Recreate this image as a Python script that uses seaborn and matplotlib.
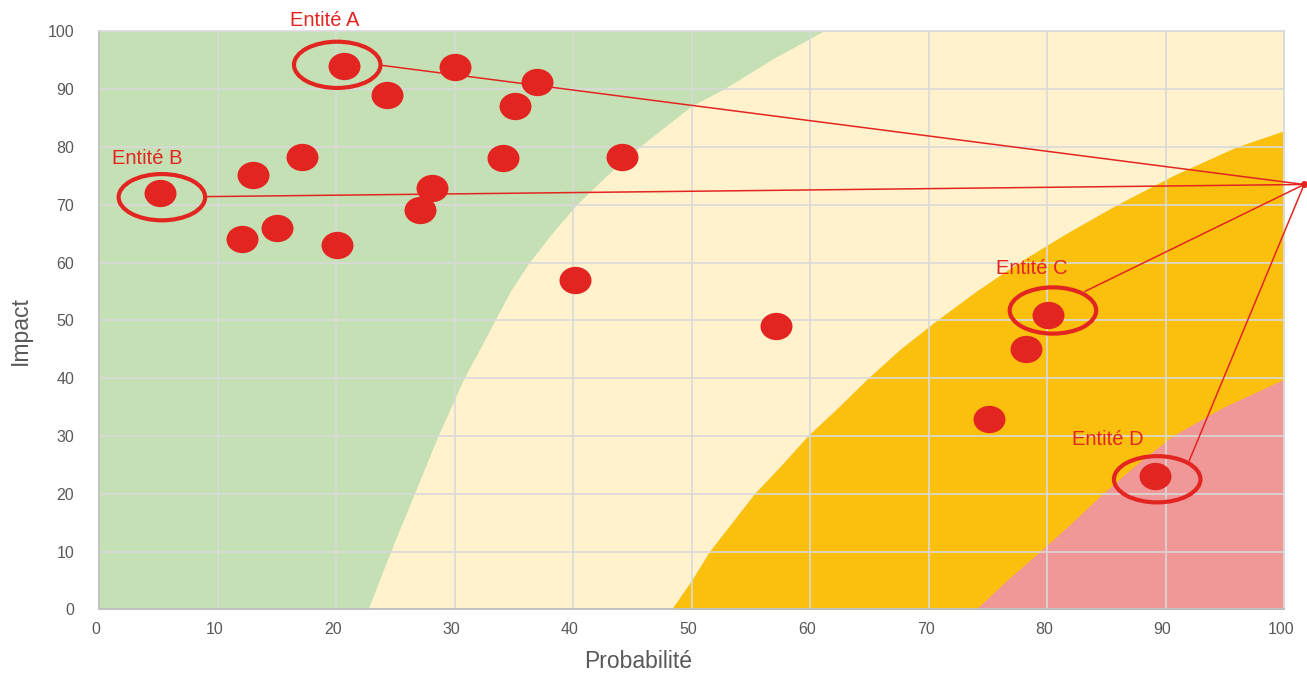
import matplotlib
matplotlib.use("Agg")
import matplotlib.pyplot as plt
import seaborn as sns
import pandas as pd
from matplotlib.path import Path
from matplotlib.patches import Ellipse
from matplotlib.transforms import Affine2D, ScaledTranslation

sns.set_theme(style="whitegrid")
plt.rcParams['font.family'] = ['Liberation Sans', 'DejaVu Sans']

# Risk points (probabilite, impact)
probabilite = [20.7, 24.3, 30.0, 37.0, 35.1, 17.1, 13.0, 5.1, 34.1, 44.1, 28.1,
               27.1, 12.1, 15.0, 20.1, 40.2, 57.1, 80.1, 78.2, 75.1, 89.1]
impact = [94.0, 88.9, 93.9, 91.3, 87.0, 78.3, 75.1, 72.1, 78.1, 78.3, 72.9,
          69.1, 64.1, 66.0, 63.0, 57.0, 49.1, 51.0, 45.0, 32.9, 23.0]

# Zone boundaries (x position of the boundary for given impact levels)
green_y = [0, 10, 20, 30, 40, 45.7, 50, 55, 60, 65, 70, 75, 80, 87.1, 90, 95.3, 100]
green_x = [22.7, 24.6, 26.6, 28.6, 30.8, 32.3, 33.4, 34.7, 36.3, 38.2, 40.3,
           42.8, 45.6, 50.0, 52.7, 56.9, 61.1]
orange_y = [0, 5, 10, 15, 20, 25, 30, 35, 40, 45, 50, 55, 60, 65, 70, 75, 80, 82.8]
orange_x = [48.3, 50.0, 51.5, 53.4, 55.3, 57.6, 59.8, 62.4, 64.9, 67.6, 70.7,
            74.0, 77.6, 81.6, 85.9, 90.6, 96.0, 100]
pink_y = [0, 5, 10, 15, 20, 25, 30, 35, 39.8]
pink_x = [74.0, 76.6, 79.4, 82.1, 84.7, 87.5, 90.6, 94.9, 100]

# Highlighted entities
entites = ["Entité A", "Entité B", "Entité C", "Entité D"]
ell_x = [20.1, 5.3, 80.5, 89.3]
ell_y = [94.2, 71.3, 51.7, 22.5]
label_x = [19.0, 4.1, 78.7, 85.1]
label_y = [101.8, 78.0, 58.9, 29.3]
link_x = [23.9, 9.1, 83.2, 92.0]
link_y = [94.1, 71.4, 55.0, 25.7]
hub = (101.7, 73.5)

RED = "#E32522"
GREEN = "#C5E0B4"
YELLOW = "#FFF2CC"
ORANGE = "#FBC00D"
PINK = "#F09798"
GRAY = "#595959"

fig = plt.figure(figsize=(13.07, 6.73), dpi=100)
ax = fig.add_axes([0.0758, 0.0946, 0.9066, 0.8589])
ax.set_facecolor(YELLOW)

ax.fill_betweenx(green_y, 0, green_x, color=GREEN, lw=0, zorder=0.2)
ax.fill_betweenx(orange_y, orange_x, 100, color=ORANGE, lw=0, zorder=0.3)
ax.fill_betweenx(pink_y, pink_x, 100, color=PINK, lw=0, zorder=0.4)

# slightly wide elliptical marker like the original
dot = Path.unit_circle().transformed(Affine2D().scale(1.17, 1.0))
df = pd.DataFrame({"Probabilité": probabilite, "Impact": impact})
sns.scatterplot(data=df, x="Probabilité", y="Impact", marker=dot, s=530,
                color=RED, linewidth=0, zorder=3, ax=ax)

for name, ex, ey, lx, ly, kx, ky in zip(entites, ell_x, ell_y, label_x, label_y, link_x, link_y):
    ax.add_patch(Ellipse((ex, ey), width=7.3, height=8.0, fill=False,
                         ec=RED, lw=3, zorder=4, clip_on=False))
    ax.plot([kx, hub[0]], [ky, hub[1]], color=RED, lw=1.1, zorder=4, clip_on=False)
    ax.text(lx, ly, name, color=RED, fontsize=14.5, ha="center", va="center",
            zorder=5, clip_on=False)
ax.plot([hub[0]], [hub[1]], "o", color=RED, ms=4, zorder=5, clip_on=False)

ax.set_xlim(0, 100)
ax.set_ylim(0, 100)
ax.set_xticks(range(0, 101, 10))
ax.set_yticks(range(0, 101, 10))
ax.set_axisbelow("line")
ax.grid(True, color="#D9D9D9", lw=1.2)
ax.tick_params(axis="both", length=0, labelsize=11.5, labelcolor=GRAY)
ax.tick_params(axis="x", pad=9)
ax.tick_params(axis="y", pad=18)
for lab in ax.get_xticklabels():
    lab.set_transform(lab.get_transform() + ScaledTranslation(-3 / 100, 0, fig.dpi_scale_trans))

for side in ["left", "bottom"]:
    ax.spines[side].set_color("#BFBFBF")
    ax.spines[side].set_linewidth(1.3)
for side in ["top", "right"]:
    ax.spines[side].set_color("#D9D9D9")
    ax.spines[side].set_linewidth(1.2)

ax.set_xlabel("Probabilité", fontsize=16.5, color=GRAY)
ax.set_ylabel("Impact", fontsize=16.5, color=GRAY)
ax.xaxis.set_label_coords(0.4546, -0.0894)
ax.xaxis.label.set_va("center")
ax.yaxis.set_label_coords(-0.066, 0.4815)
ax.yaxis.label.set_va("center")

fig.savefig("out.png", dpi=100)
